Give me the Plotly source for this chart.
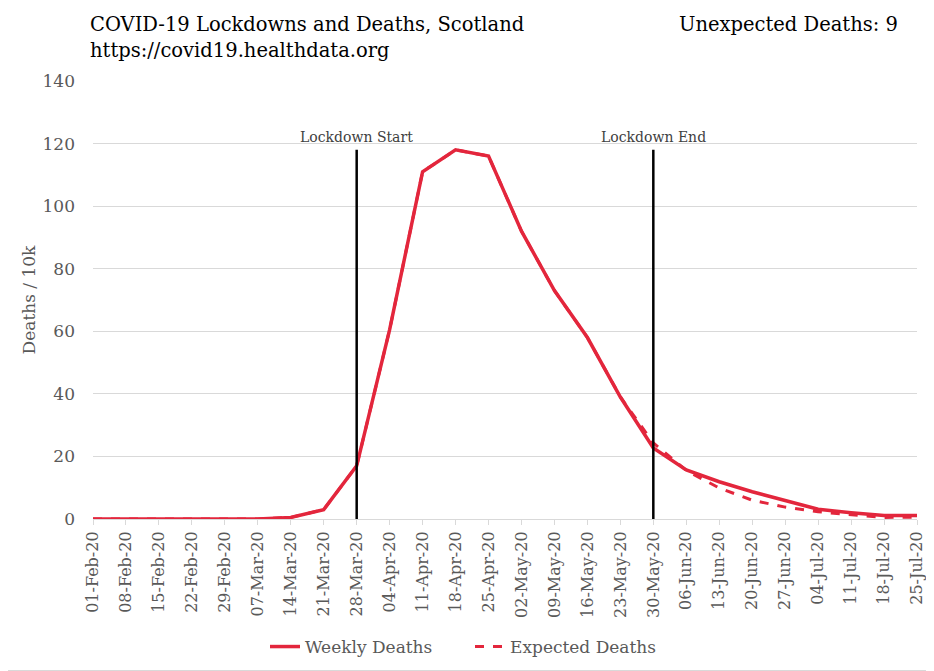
import plotly.graph_objects as go

weeks = ["01-Feb-20", "08-Feb-20", "15-Feb-20", "22-Feb-20", "29-Feb-20", "07-Mar-20",
         "14-Mar-20", "21-Mar-20", "28-Mar-20", "04-Apr-20", "11-Apr-20", "18-Apr-20",
         "25-Apr-20", "02-May-20", "09-May-20", "16-May-20", "23-May-20", "30-May-20",
         "06-Jun-20", "13-Jun-20", "20-Jun-20", "27-Jun-20", "04-Jul-20", "11-Jul-20",
         "18-Jul-20", "25-Jul-20"]
weekly_deaths = [0, 0, 0, 0, 0, 0, 0.5, 3, 17, 60.5, 111, 118, 116, 92, 73, 58, 39, 22.7,
                 15.7, 11.9, 8.7, 6, 3.1, 2, 1.1, 1.1]
expected_deaths = [0, 0, 0, 0, 0, 0, 0.5, 3, 17, 60.5, 111, 118, 116, 92, 73, 58, 39, 24.3,
                   15.5, 9.9, 6, 3.8, 2.3, 1.5, 0.5, 0.6]
lockdown_start = "28-Mar-20"
lockdown_end = "30-May-20"
unexpected = 9

RED = "#E3263C"
GREY = "#595959"
FONT = "DejaVu Serif"

# page body has an 8px margin; work in screen coordinates and convert
OFF = 8
W, H = 934 - OFF, 671 - OFF
L, R, T, B = 93 - OFF, 17, 81 - OFF, 152
pw, ph = W - L - R, H - T - B


def px(sx):
    return (sx - OFF - L) / pw


def py(sy):
    return 1 - (sy - OFF - T) / ph


fig = go.Figure()
fig.add_trace(go.Scatter(x=weeks, y=expected_deaths, mode="lines", name="Expected Deaths",
                         line=dict(color=RED, width=3, dash="dash")))
fig.add_trace(go.Scatter(x=weeks, y=weekly_deaths, mode="lines", name="Weekly Deaths",
                         line=dict(color=RED, width=3.5)))
top = max(weekly_deaths)
for d, label in [(lockdown_start, "Lockdown Start"), (lockdown_end, "Lockdown End")]:
    fig.add_trace(go.Scatter(x=[d, d], y=[0, top], mode="lines", showlegend=False,
                             line=dict(color="black", width=2.5), hoverinfo="skip"))
    fig.add_annotation(x=d, y=top, yshift=3, text=label, showarrow=False,
                       font=dict(family=FONT, size=14, color="#404040"), yanchor="bottom")

fig.add_annotation(xref="paper", yref="paper", x=px(88), y=py(11),
                   text="COVID-19 Lockdowns and Deaths, Scotland", showarrow=False,
                   xanchor="left", yanchor="top", font=dict(family=FONT, size=19.5, color="black"))
fig.add_annotation(xref="paper", yref="paper", x=px(88), y=py(37),
                   text="https://covid19.healthdata.org", showarrow=False,
                   xanchor="left", yanchor="top", font=dict(family=FONT, size=19.5, color="black"))
fig.add_annotation(xref="paper", yref="paper", x=px(900), y=py(11),
                   text=f"Unexpected Deaths: {unexpected}", showarrow=False,
                   xanchor="right", yanchor="top", font=dict(family=FONT, size=19.5, color="black"))

# right and bottom frame lines
fig.add_shape(type="line", xref="paper", yref="paper", x0=px(932.5), x1=px(932.5),
              y0=py(0), y1=py(671), line=dict(color="#d9d9d9", width=1.5), layer="below")
fig.add_shape(type="line", xref="paper", yref="paper", x0=px(0), x1=px(934),
              y0=py(670.5), y1=py(670.5), line=dict(color="#d9d9d9", width=1), layer="below")

fig.update_layout(
    width=W, height=H, margin=dict(l=L, r=R, t=T, b=B, autoexpand=False),
    plot_bgcolor="white", paper_bgcolor="white",
    font=dict(family=FONT, color=GREY),
    showlegend=True,
    legend=dict(orientation="h", x=px(470), xanchor="center", y=py(647), yanchor="middle",
                font=dict(family=FONT, size=17, color=GREY), traceorder="reversed",
                entrywidth=160, entrywidthmode="pixels"),
    xaxis=dict(type="category", categoryorder="array", categoryarray=weeks, automargin=False,
               range=[0, len(weeks) - 1], tickangle=-90, showgrid=False,
               showline=True, linecolor="#d9d9d9", linewidth=1,
               ticks="outside", ticklen=5, tickcolor="#d9d9d9",
               tickfont=dict(family=FONT, size=16, color=GREY)),
    yaxis=dict(range=[0, 140], dtick=20, showgrid=True, gridcolor="#d9d9d9", zeroline=False,
               showline=False, automargin=False, tickfont=dict(family=FONT, size=17, color=GREY),
               ticklabelstandoff=17,
               title=dict(text="Deaths / 10k", font=dict(family=FONT, size=17, color=GREY),
                          standoff=2)),
    hovermode=False,
)

fig.write_html("out.html")
